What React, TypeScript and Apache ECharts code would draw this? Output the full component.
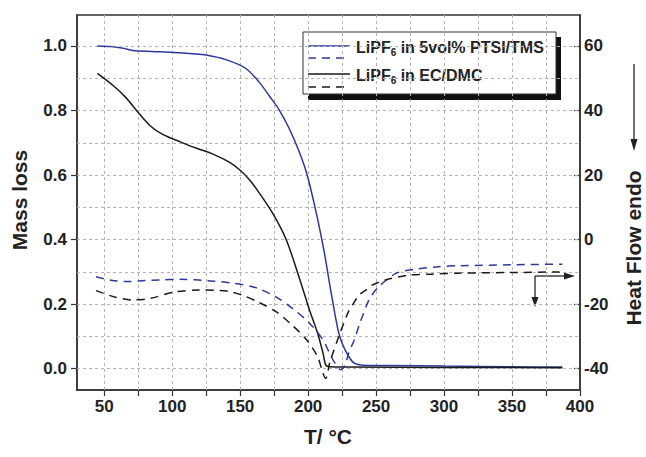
import React, { useEffect, useRef } from "react";
import * as echarts from "echarts";

// ---- axis ticks / labels ----
const tempTicks = [50, 75, 100, 125, 150, 175, 200, 225, 250, 275, 300, 325, 350, 375, 400];
const tempLabels = [50, 100, 150, 200, 250, 300, 350, 400];
const tempGrid = [50, 75, 100, 125, 150, 175, 200, 225, 250, 275, 300, 325, 350, 375];
const massLabels = [0, 0.2, 0.4, 0.6, 0.8, 1.0];
const massGrid = [0, 0.1, 0.2, 0.3, 0.4, 0.5, 0.6, 0.7, 0.8, 0.9, 1.0];
const heatLabels = [-40, -20, 0, 20, 40, 60];

// ---- LiPF6 in 5vol% PTSI/TMS : mass loss ----
const ptsiMassT = [45, 55, 64, 71, 85, 101, 115, 125, 140, 154, 164, 172, 179, 186, 193, 199, 206, 212, 217, 222, 225, 230, 234, 240, 260, 300, 350, 387];
const ptsiMass = [1.0, 0.998, 0.993, 0.986, 0.983, 0.98, 0.976, 0.972, 0.957, 0.931, 0.888, 0.842, 0.8, 0.745, 0.677, 0.605, 0.483, 0.358, 0.234, 0.12, 0.079, 0.037, 0.017, 0.011, 0.01, 0.008, 0.006, 0.005];

// ---- LiPF6 in EC/DMC : mass loss ----
const ecMassT = [45, 57, 66, 75, 84, 93, 106, 118, 130, 142, 150, 157, 164, 174, 184, 194, 201, 207, 211, 213, 216, 230, 300, 387];
const ecMass = [0.915, 0.876, 0.84, 0.794, 0.752, 0.726, 0.703, 0.683, 0.665, 0.64, 0.615, 0.585, 0.545, 0.481, 0.399, 0.275, 0.182, 0.11, 0.048, 0.011, 0.006, 0.005, 0.004, 0.003];

// ---- LiPF6 in 5vol% PTSI/TMS : heat flow ----
const ptsiHeatT = [44, 55, 66, 80, 91, 106, 128, 145, 159, 165, 177, 189, 201, 211, 217, 221, 224, 227, 230, 234, 238, 245, 252, 265, 279, 296, 311, 350, 387];
const ptsiHeat = [-11.5, -12.6, -13, -12.7, -12.5, -12.3, -12.8, -13.5, -14.6, -15.4, -17.9, -21.5, -25.9, -31.1, -36.3, -39, -40.3, -39, -35, -31, -26, -18.5, -14.6, -10.4, -9.2, -8.4, -8.1, -7.8, -7.6];

// ---- LiPF6 in EC/DMC : heat flow ----
const ecHeatT = [44, 57, 71, 84, 101, 120, 135, 142, 152, 164, 177, 189, 199, 207, 211, 213, 216, 223, 230, 233, 238, 243, 247, 257, 274, 291, 309, 350, 385];
const ecHeat = [-15.8, -17.7, -18.7, -18.2, -16.3, -15.6, -15.8, -16.1, -17.3, -19.5, -22.5, -26.8, -31.1, -36.3, -41.5, -43, -38, -29.5, -22, -20, -17, -15.5, -14.1, -12.5, -11, -10.7, -10.4, -10.2, -10];

const BLUE = "#2b3a9a";
const BLACK = "#1a1a1a";
const AXIS = "#333333";
const FONT = "'Liberation Sans', Arial, Helvetica, sans-serif";

const pairs = (xs: number[], ys: number[]) => xs.map((x, i) => [x, ys[i]]);

export default function App() {
  const ref = useRef<HTMLDivElement>(null);
  useEffect(() => {
    if (!ref.current) return;
    const chart = echarts.init(ref.current, undefined, { renderer: "svg" });
    const tickLabel = { fontFamily: FONT, fontWeight: "bold" as const, fontSize: 17, color: "#222" };
    const gridLine = { color: "#b4b4b4", width: 1, type: [3, 3] as any };
    const curve = { type: "line" as const, showSymbol: false, smooth: 0.3, z: 10 };
    chart.setOption({
      animation: false,
      backgroundColor: "#fff",
      grid: { left: 77, right: 66, top: 15, bottom: 67, show: true, borderColor: AXIS, borderWidth: 1.5, backgroundColor: "transparent" },
      xAxis: {
        type: "value",
        min: 30,
        max: 400,
        axisLine: { show: true, onZero: false, lineStyle: { color: AXIS, width: 1.5 } },
        axisTick: { show: true, inside: false, length: 6, customValues: tempTicks, lineStyle: { color: AXIS, width: 1.2 } },
        axisLabel: { ...tickLabel, margin: 8, customValues: tempLabels, formatter: (v: number) => String(v) },
        splitLine: { show: false },
      },
      yAxis: [
        {
          type: "value",
          min: -0.066,
          max: 1.096,
          position: "left",
          axisLine: { show: true, onZero: false, lineStyle: { color: AXIS, width: 1.5 } },
          axisTick: { show: true, inside: false, length: 6, customValues: massLabels, lineStyle: { color: AXIS, width: 1.2 } },
          axisLabel: { ...tickLabel, margin: 10, customValues: massLabels, formatter: (v: number) => v.toFixed(1) },
          splitLine: { show: false },
        },
        {
          type: "value",
          min: -46.6,
          max: 69.6,
          position: "right",
          axisLine: { show: true, onZero: false, lineStyle: { color: AXIS, width: 1.5 } },
          axisTick: { show: true, inside: true, length: 6, customValues: heatLabels, lineStyle: { color: AXIS, width: 1.2 } },
          axisLabel: { ...tickLabel, margin: 4, customValues: heatLabels, formatter: (v: number) => String(v) },
          splitLine: { show: false },
        },
      ],
      series: [
        {
          type: "line",
          name: "grid",
          data: [],
          xAxisIndex: 0,
          yAxisIndex: 0,
          silent: true,
          z: 1,
          markLine: {
            silent: true,
            symbol: "none",
            z: 1,
            label: { show: false },
            lineStyle: gridLine,
            emphasis: { disabled: true },
            data: [
              ...tempGrid.map((v) => ({ xAxis: v })),
              ...massGrid.map((v) => ({ yAxis: v })),
            ],
          },
        },
        { ...curve, name: "ptsiMass", data: pairs(ptsiMassT, ptsiMass), yAxisIndex: 0, lineStyle: { color: BLUE, width: 1.5 } },
        { ...curve, name: "ecMass", data: pairs(ecMassT, ecMass), yAxisIndex: 0, lineStyle: { color: BLACK, width: 1.5 } },
        { ...curve, name: "ptsiHeat", data: pairs(ptsiHeatT, ptsiHeat), yAxisIndex: 1, lineStyle: { color: BLUE, width: 1.5, type: [8, 6] } },
        { ...curve, name: "ecHeat", data: pairs(ecHeatT, ecHeat), yAxisIndex: 1, lineStyle: { color: BLACK, width: 1.5, type: [8, 6] } },
      ],
      graphic: [
        {
          type: "group",
          z: 100,
          children: [
            { type: "rect", shape: { x: 308, y: 37, width: 253, height: 63 }, style: { fill: "#111" } },
            { type: "rect", shape: { x: 303, y: 32, width: 253, height: 62 }, style: { fill: "#fff", stroke: "#333", lineWidth: 1 } },
            { type: "line", shape: { x1: 308, y1: 46, x2: 350, y2: 46 }, style: { stroke: BLUE, lineWidth: 1.5 } },
            { type: "line", shape: { x1: 308, y1: 58, x2: 350, y2: 58 }, style: { stroke: BLUE, lineWidth: 1.5, lineDash: [8, 6] } },
            { type: "line", shape: { x1: 308, y1: 74, x2: 350, y2: 74 }, style: { stroke: BLACK, lineWidth: 1.5 } },
            { type: "line", shape: { x1: 308, y1: 87, x2: 350, y2: 87 }, style: { stroke: BLACK, lineWidth: 1.5, lineDash: [8, 6] } },
            {
              type: "text",
              x: 356,
              y: 47,
              style: {
                text: "LiPF{s|6} in 5vol% PTSI/TMS",
                fontFamily: FONT,
                fontWeight: "bold",
                fontSize: 16,
                lineHeight: 20,
                fill: "#222",
                verticalAlign: "middle",
                rich: { s: { fontFamily: FONT, fontWeight: "bold", fontSize: 10, lineHeight: 12, verticalAlign: "bottom", fill: "#222" } },
              },
            },
            {
              type: "text",
              x: 356,
              y: 75,
              style: {
                text: "LiPF{s|6} in EC/DMC",
                fontFamily: FONT,
                fontWeight: "bold",
                fontSize: 16,
                lineHeight: 20,
                fill: "#222",
                verticalAlign: "middle",
                rich: { s: { fontFamily: FONT, fontWeight: "bold", fontSize: 10, lineHeight: 12, verticalAlign: "bottom", fill: "#222" } },
              },
            },
          ],
        },
        // axis titles
        {
          type: "text",
          x: 19,
          y: 200,
          rotation: Math.PI / 2,
          style: { text: "Mass loss", fontFamily: FONT, fontWeight: "bold", fontSize: 21, fill: "#222", align: "center", verticalAlign: "middle" },
        },
        {
          type: "text",
          x: 633,
          y: 248,
          rotation: Math.PI / 2,
          style: { text: "Heat Flow endo", fontFamily: FONT, fontWeight: "bold", fontSize: 21, fill: "#222", align: "center", verticalAlign: "middle" },
        },
        {
          type: "text",
          x: 328,
          y: 436,
          style: { text: "T/ °C", fontFamily: FONT, fontWeight: "bold", fontSize: 21, fill: "#222", align: "center", verticalAlign: "middle" },
        },
        // endo arrow
        { type: "line", shape: { x1: 634, y1: 64, x2: 634, y2: 142 }, style: { stroke: "#222", lineWidth: 1.3 } },
        { type: "polygon", shape: { points: [[630.5, 139], [637.5, 139], [634, 151]] }, style: { fill: "#222" } },
        // small annotation arrows
        { type: "line", shape: { x1: 535, y1: 276, x2: 566, y2: 276 }, style: { stroke: "#222", lineWidth: 1.3 } },
        { type: "polygon", shape: { points: [[564, 272.5], [564, 279.5], [575, 276]] }, style: { fill: "#222" } },
        { type: "line", shape: { x1: 535, y1: 276, x2: 535, y2: 299 }, style: { stroke: "#222", lineWidth: 1.3 } },
        { type: "polygon", shape: { points: [[531.5, 297], [538.5, 297], [535, 307]] }, style: { fill: "#222" } },
      ],
    });
    return () => chart.dispose();
  }, []);
  return <div ref={ref} style={{ position: "fixed", left: 0, top: 0, width: 646, height: 457 }} />;
}
